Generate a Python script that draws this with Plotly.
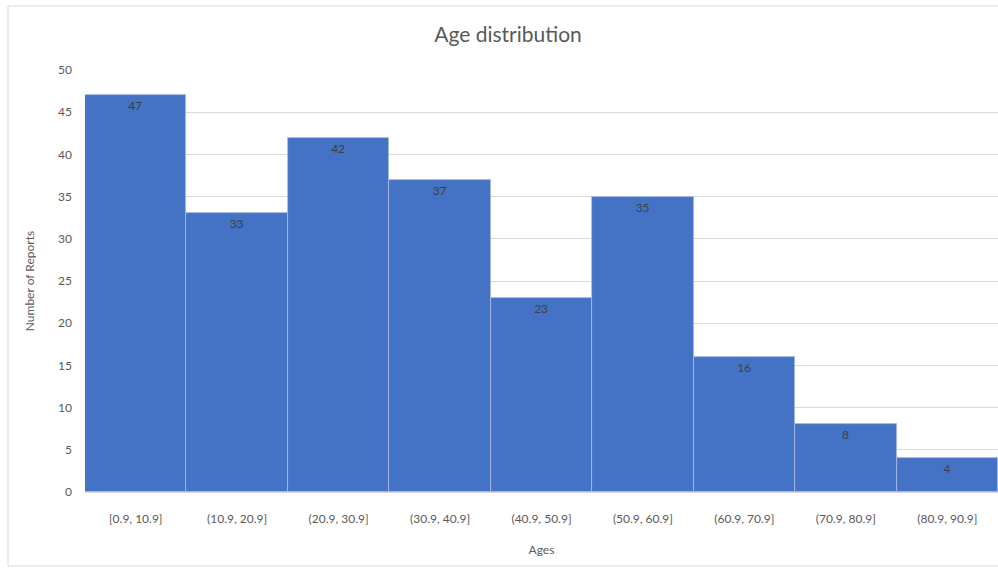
import plotly.graph_objects as go

categories = ["[0.9, 10.9]", "(10.9, 20.9]", "(20.9, 30.9]", "(30.9, 40.9]", "(40.9, 50.9]",
              "(50.9, 60.9]", "(60.9, 70.9]", "(70.9, 80.9]", "(80.9, 90.9]"]
counts = [47, 33, 42, 37, 23, 35, 16, 8, 4]
y_ticks = [0, 5, 10, 15, 20, 25, 30, 35, 40, 45, 50]

W, H = 998, 573
L, R, T, B = 85, 0, 70, 81
pw = W - L - R
ph = H - T - B

fig = go.Figure(go.Bar(
    x=categories, y=counts,
    marker=dict(color="#4472C4", line=dict(color="#A9BEE6", width=0.8)),
    text=[str(c) for c in counts],
    textposition="inside", insidetextanchor="end",
    textfont=dict(family="Lato", size=12, color="#404040"),
    textangle=0,
))

fig.update_layout(
    width=W, height=H,
    margin=dict(l=L, r=R, t=T, b=B),
    paper_bgcolor="white", plot_bgcolor="white",
    bargap=0,
    showlegend=False,
    font=dict(family="Lato", color="#595959"),
    title=dict(text="Age distribution", x=(508 - L) / pw, xref="paper",
               y=1 - 35 / H, yanchor="middle", xanchor="center",
               font=dict(family="Lato", size=21, color="#595959")),
    xaxis=dict(
        tickfont=dict(size=12, color="#595959"),
        showgrid=False, showline=False, ticks="",
        ticklabelstandoff=18,
        title=dict(text="Ages", font=dict(size=12, color="#595959"), standoff=20),
    ),
    yaxis=dict(
        range=[0, 50], tickvals=y_ticks,
        tickfont=dict(size=12, color="#595959"),
        showgrid=True, gridcolor="#D9D9D9", gridwidth=1,
        zeroline=True, zerolinecolor="#D9D9D9",
        ticks="", ticklabelstandoff=12,
        title=dict(text="Number of Reports", font=dict(size=12, color="#595959"), standoff=20),
    ),
)

# chart frame (Excel chart border)
fig.add_shape(type="rect", xref="paper", yref="paper",
              x0=(8 - L) / pw, x1=(W + 5 - L) / pw,
              y0=(H - B - 566) / ph, y1=(H - B - 6) / ph,
              line=dict(color="#D9D9D9", width=1), fillcolor="rgba(0,0,0,0)", layer="below")

fig.write_html("out.html")
